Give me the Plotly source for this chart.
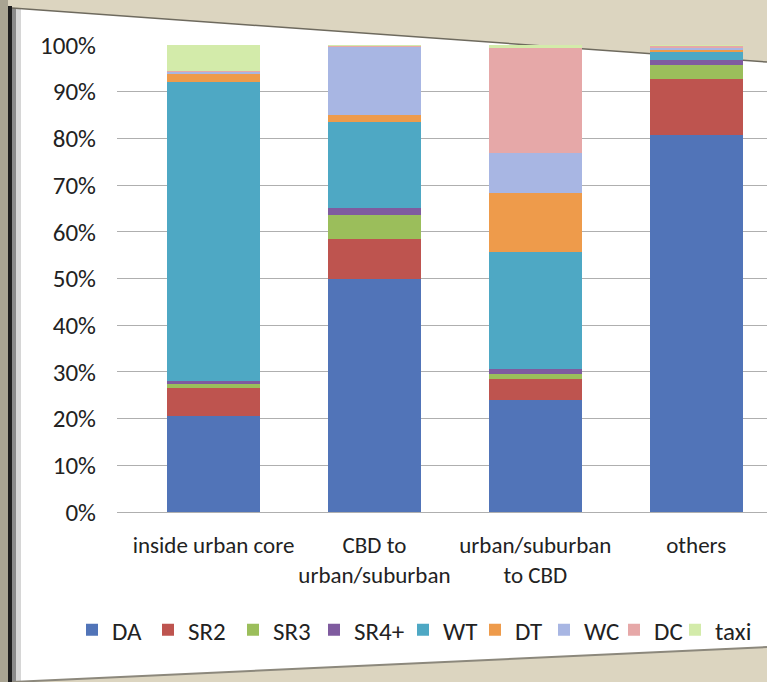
import plotly.graph_objects as go

# Trip categories (x axis)
categories = ["inside urban core", "CBD to<br>urban/suburban", "urban/suburban<br>to CBD", "others"]

# Mode shares (%) per category
modes = ["DA", "SR2", "SR3", "SR4+", "WT", "DT", "WC", "DC", "taxi"]
da = [20.5, 50.0, 24.0, 80.8]
sr2 = [6.0, 8.5, 4.5, 12.0]
sr3 = [1.0, 5.2, 1.0, 2.9]
sr4 = [0.5, 1.5, 1.2, 1.0]
wt = [64.0, 18.3, 25.0, 1.8]
dt = [2.0, 1.6, 12.7, 0.5]
wc = [0.3, 14.6, 8.4, 0.3]
dc = [0.2, 0.1, 22.6, 0.5]
taxi = [5.5, 0.2, 0.6, 0.2]

series = [da, sr2, sr3, sr4, wt, dt, wc, dc, taxi]
colors = ["#5174B8", "#BE544F", "#9BBE5B", "#7F5B9F", "#4EA8C4",
          "#EE9B4B", "#A8B6E3", "#E6A8A8", "#D3EBAA"]
# legend entry widths (px) for each mode label
legend_widths = [31, 40, 36, 44, 27, 24, 25, 16, 35]

tick_vals = list(range(0, 101, 10))
tick_text = [f"{v}%" for v in tick_vals]

font_family = "Carlito, Lato, 'Open Sans', sans-serif"
text_color = "#222222"

fig = go.Figure()
for name, vals, col, lw in zip(modes, series, colors, legend_widths):
    fig.add_trace(go.Bar(
        x=categories, y=vals, name=name,
        marker=dict(color=col, line=dict(width=0)),
        width=0.58,
        legendwidth=lw,
    ))

# Plot-area geometry in pixels (used to place the frame decoration)
W, H = 767, 682
ML, MR, MT, MB = 117, 0, 45, 170
PW = W - ML - MR
PH = H - MT - MB


def px(x):
    return (x - ML) / PW


def py(y):
    return (H - MB - y) / PH


frame_path = (f"M {px(12)},{py(8)} L {px(767)},{py(62)} "
              f"L {px(767)},{py(647)} L {px(12)},{py(682)} Z")

shapes = [
    # white slide face
    dict(type="path", xref="paper", yref="paper", path=frame_path,
         fillcolor="white", line=dict(width=0), layer="below"),
    # left edge of the slide
    dict(type="rect", xref="paper", yref="paper",
         x0=px(0), x1=px(8), y0=py(682), y1=py(0),
         fillcolor="#A9A492", line=dict(width=0), layer="below"),
    dict(type="rect", xref="paper", yref="paper",
         x0=px(8), x1=px(12), y0=py(682), y1=py(6),
         fillcolor="#1E1E1E", line=dict(width=0), layer="below"),
    dict(type="rect", xref="paper", yref="paper",
         x0=px(12), x1=px(16), y0=py(682), y1=py(8),
         fillcolor="#8A8A8A", line=dict(width=0), layer="below"),
    dict(type="rect", xref="paper", yref="paper",
         x0=px(16), x1=px(21), y0=py(682), y1=py(9),
         fillcolor="#D6D6D6", line=dict(width=0), layer="below"),
    # top edge line
    dict(type="line", xref="paper", yref="paper",
         x0=px(12), y0=py(8), x1=px(767), y1=py(62),
         line=dict(color="#6E6A5E", width=1.5), layer="below"),
    # bottom edge line
    dict(type="line", xref="paper", yref="paper",
         x0=px(12), y0=py(682), x1=px(767), y1=py(647),
         line=dict(color="#8C887C", width=2), layer="below"),
]

fig.update_layout(
    width=W, height=H,
    margin=dict(l=ML, r=MR, t=MT, b=MB),
    barmode="stack",
    paper_bgcolor="#DCD5C0",
    plot_bgcolor="rgba(0,0,0,0)",
    font=dict(family=font_family, color=text_color),
    shapes=shapes,
    showlegend=True,
    legend=dict(
        orientation="h", traceorder="normal",
        x=px(72), xanchor="left", y=py(630), yanchor="middle",
        font=dict(size=25, family=font_family, color=text_color),
        bgcolor="rgba(0,0,0,0)",
        itemwidth=30,
    ),
)

fig.update_xaxes(
    type="category",
    range=[-0.6, 3.44],
    showgrid=False, showline=False, ticks="",
    tickfont=dict(size=23, family=font_family, color=text_color),
    ticklabelstandoff=17,
)

fig.update_yaxes(
    range=[0, 100],
    tickvals=tick_vals, ticktext=tick_text,
    showgrid=True, gridcolor="#AFAFAF", gridwidth=1,
    zeroline=True, zerolinecolor="#AFAFAF", zerolinewidth=1,
    showline=False, ticks="",
    tickfont=dict(size=25, family=font_family, color=text_color),
    ticklabelstandoff=20,
)

fig.write_html("out.html")
